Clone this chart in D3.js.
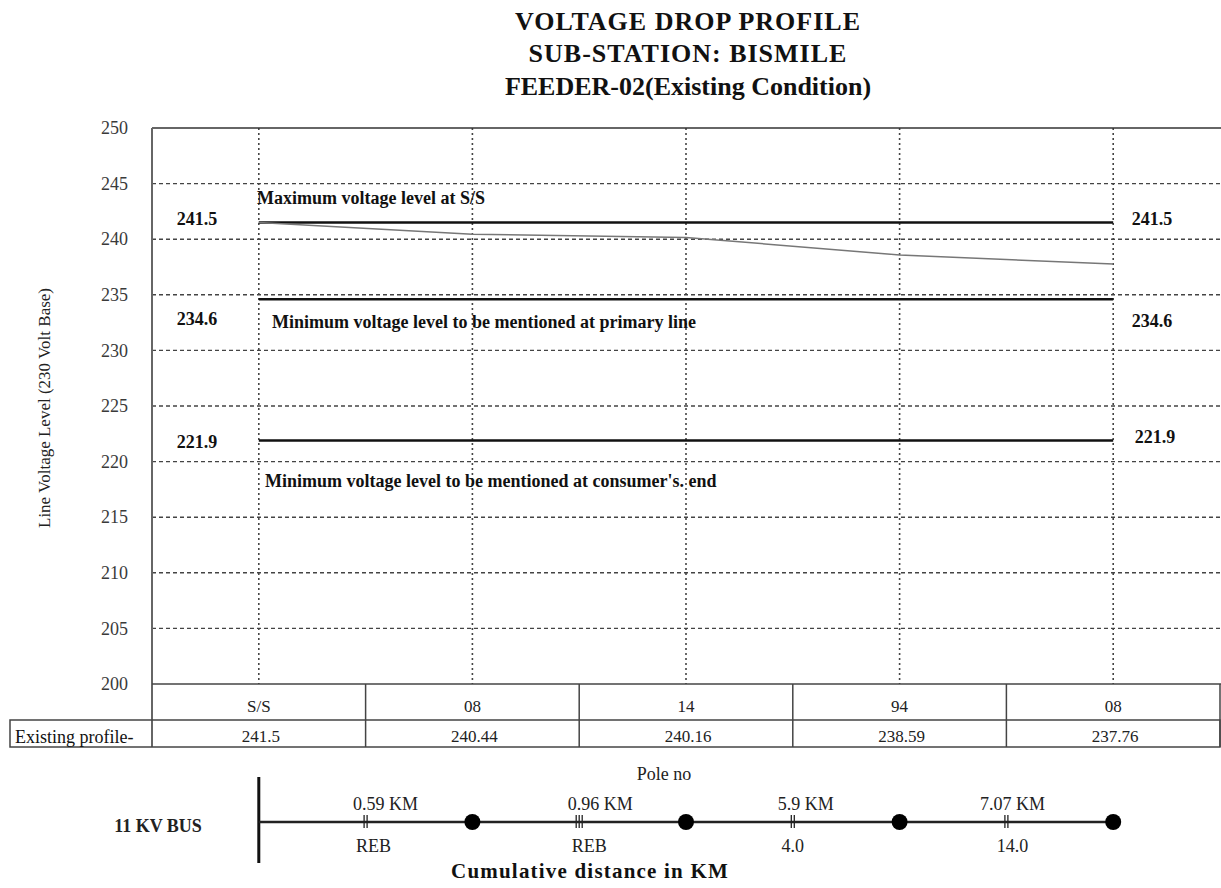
<!DOCTYPE html>
<html>
<head>
<meta charset="utf-8">
<script src="https://cdn.jsdelivr.net/npm/d3@7"></script>
<style>
  body { margin:0; background:#fff; }
  text { font-family:"Liberation Serif", "Times New Roman", serif; }
</style>
</head>
<body>
<div id="chart"></div>
<script>
// data
var poles = ["S/S", "08", "14", "94", "08"]
var existing = [241.5, 240.44, 240.16, 238.59, 237.76]
var refLevels = [241.5, 234.6, 221.9]
var refNotes = ["Maximum voltage level at S/S",
                "Minimum voltage level to be mentioned at primary line",
                "Minimum voltage level to be mentioned at consumer's. end"]
var yTicks = [200, 205, 210, 215, 220, 225, 230, 235, 240, 245, 250]
var spanKm = ["0.59 KM", "0.96 KM", "5.9 KM", "7.07 KM"]
var spanTags = ["REB", "REB", "4.0", "14.0"]
var spanBars = [2, 3, 2, 2]

var mainCode = function(){
    var W = 1221, H = 888
    var plot = {l:152, r:1220, t:128, b:684}

    var svg = d3.select("#chart")
        .append("svg")
        .attr("width", W)
        .attr("height", H)

    var idx = poles.map(function(d, i){ return i })
    var x = d3.scaleBand().domain(idx).range([plot.l, plot.r])
    var y = d3.scaleLinear().domain([200, 250]).range([plot.b, plot.t])
    var cx = function(i){ return x(i) + x.bandwidth()/2 }

    //title
    var titles = ["VOLTAGE DROP PROFILE", "SUB-STATION: BISMILE", "FEEDER-02(Existing Condition)"]
    var titleY = [30, 62, 95]
    var titleLs = [1, 1, 0]
    svg.selectAll(".title")
        .data(titles)
        .enter()
        .append("text")
        .attr("class", "title")
        .attr("x", 688)
        .attr("y", function(d, i){ return titleY[i] })
        .attr("text-anchor", "middle")
        .attr("font-size", 26)
        .attr("font-weight", "bold")
        .attr("letter-spacing", function(d, i){ return titleLs[i] })
        .attr("fill", "#111")
        .text(function(d){ return d })

    //horizontal grid
    svg.selectAll(".hgrid")
        .data(yTicks.slice(1, -1))
        .enter()
        .append("line")
        .attr("x1", plot.l)
        .attr("x2", W)
        .attr("y1", function(d){ return y(d) })
        .attr("y2", function(d){ return y(d) })
        .attr("stroke", "#444")
        .attr("stroke-width", 1.4)
        .attr("stroke-dasharray", "4,3")

    //vertical grid
    svg.selectAll(".vgrid")
        .data(idx)
        .enter()
        .append("line")
        .attr("x1", function(d){ return cx(d) })
        .attr("x2", function(d){ return cx(d) })
        .attr("y1", plot.t)
        .attr("y2", plot.b)
        .attr("stroke", "#444")
        .attr("stroke-width", 1.6)
        .attr("stroke-dasharray", "2,3")

    //frame top + left
    svg.append("line")
        .attr("x1", plot.l).attr("x2", W)
        .attr("y1", plot.t).attr("y2", plot.t)
        .attr("stroke", "#333").attr("stroke-width", 1.5)
    svg.append("line")
        .attr("x1", plot.l).attr("x2", plot.l)
        .attr("y1", plot.t).attr("y2", 747)
        .attr("stroke", "#666").attr("stroke-width", 2)

    //y axis
    var yAxis = d3.axisLeft(y).tickValues(yTicks).tickSize(0).tickPadding(24)
    var ya = svg.append("g")
        .attr("transform", "translate(" + plot.l + ",0)")
        .call(yAxis)
    ya.select(".domain").remove()
    ya.selectAll("text")
        .attr("font-family", "Liberation Serif")
        .attr("font-size", 18)
        .attr("fill", "#3a3a3a")

    svg.append("text")
        .attr("transform", "translate(50,408) rotate(-90)")
        .attr("text-anchor", "middle")
        .attr("font-size", 17)
        .attr("fill", "#222")
        .text("Line Voltage Level (230 Volt Base)")

    //reference levels
    svg.selectAll(".ref")
        .data(refLevels)
        .enter()
        .append("line")
        .attr("x1", cx(0))
        .attr("x2", cx(poles.length - 1))
        .attr("y1", function(d){ return y(d) })
        .attr("y2", function(d){ return y(d) })
        .attr("stroke", "#111")
        .attr("stroke-width", 2.5)

    var leftDy = [2.5, 26, 8]
    var rightDy = [2.5, 28, 2.5]
    var rightX = [1152, 1152, 1155]
    var fmt = d3.format(".1f")
    refLevels.forEach(function(d, i){
        svg.append("text")
            .attr("x", 197)
            .attr("y", y(d) + leftDy[i])
            .attr("text-anchor", "middle")
            .attr("font-size", 18)
            .attr("font-weight", "bold")
            .attr("fill", "#111")
            .text(fmt(d))
        svg.append("text")
            .attr("x", rightX[i])
            .attr("y", y(d) + rightDy[i])
            .attr("text-anchor", "middle")
            .attr("font-size", 18)
            .attr("font-weight", "bold")
            .attr("fill", "#111")
            .text(fmt(d))
    })

    //notes by the levels
    var noteX = [257, 272, 265]
    var noteDy = [-18.5, 29, 46.5]
    refNotes.forEach(function(d, i){
        svg.append("text")
            .attr("x", noteX[i])
            .attr("y", y(refLevels[i]) + noteDy[i])
            .attr("font-size", 18)
            .attr("font-weight", "bold")
            .attr("fill", "#111")
            .text(d)
    })

    //existing profile line
    var line = d3.line()
        .x(function(d, i){ return cx(i) })
        .y(function(d){ return y(d) })
    svg.append("path")
        .datum(existing)
        .attr("d", line)
        .attr("fill", "none")
        .attr("stroke", "#777")
        .attr("stroke-width", 1.5)

    //table
    var rowA = {t:684, b:720}, rowB = {t:720, b:747}
    svg.append("line")
        .attr("x1", plot.l).attr("x2", W)
        .attr("y1", rowA.t).attr("y2", rowA.t)
        .attr("stroke", "#444").attr("stroke-width", 1.5)
    svg.append("rect")
        .attr("x", 10).attr("y", rowB.t)
        .attr("width", W - 11).attr("height", rowB.b - rowB.t)
        .attr("fill", "none").attr("stroke", "#444").attr("stroke-width", 1.5)
    svg.append("line")
        .attr("x1", W - 1).attr("x2", W - 1)
        .attr("y1", rowA.t).attr("y2", rowB.b)
        .attr("stroke", "#444").attr("stroke-width", 1.5)
    svg.selectAll(".cellsep")
        .data(idx.slice(1))
        .enter()
        .append("line")
        .attr("x1", function(d){ return x(d) })
        .attr("x2", function(d){ return x(d) })
        .attr("y1", rowA.t)
        .attr("y2", rowB.b)
        .attr("stroke", "#444")
        .attr("stroke-width", 1.5)

    svg.selectAll(".pole")
        .data(poles)
        .enter()
        .append("text")
        .attr("x", function(d, i){ return cx(i) })
        .attr("y", 712)
        .attr("text-anchor", "middle")
        .attr("font-family", "Liberation Sans")
        .attr("font-size", 17)
        .attr("fill", "#222")
        .text(function(d){ return d })
    svg.selectAll(".val")
        .data(existing)
        .enter()
        .append("text")
        .attr("x", function(d, i){ return cx(i) + 2 })
        .attr("y", 742)
        .attr("text-anchor", "middle")
        .attr("font-family", "Liberation Sans")
        .attr("font-size", 17)
        .attr("fill", "#222")
        .text(function(d){ return d })
    svg.append("text")
        .attr("x", 15)
        .attr("y", 743)
        .attr("font-size", 18)
        .attr("fill", "#111")
        .text("Existing profile-")

    //single line diagram
    var busY = 822
    svg.append("text")
        .attr("x", 664).attr("y", 780)
        .attr("text-anchor", "middle")
        .attr("font-size", 18)
        .attr("fill", "#222")
        .text("Pole no")
    svg.append("text")
        .attr("x", 158).attr("y", 832)
        .attr("text-anchor", "middle")
        .attr("font-size", 18)
        .attr("font-weight", "bold")
        .attr("fill", "#222")
        .text("11 KV BUS")
    svg.append("line")
        .attr("x1", cx(0)).attr("x2", cx(0))
        .attr("y1", 777).attr("y2", 863)
        .attr("stroke", "#111").attr("stroke-width", 3)
    svg.append("line")
        .attr("x1", cx(0)).attr("x2", cx(poles.length - 1))
        .attr("y1", busY).attr("y2", busY)
        .attr("stroke", "#222").attr("stroke-width", 2.5)
    svg.selectAll(".node")
        .data(idx.slice(1))
        .enter()
        .append("circle")
        .attr("cx", function(d){ return cx(d) })
        .attr("cy", busY)
        .attr("r", 8)
        .attr("fill", "#000")

    var kmDx = [20, 21, 13, 6]
    var tagDx = [8, 10, 0, 6]
    spanKm.forEach(function(d, i){
        var mx = x(i + 1)
        for (var k = 0; k < spanBars[i]; k++){
            var bx = mx - (spanBars[i] - 1)*1.5 + k*3
            svg.append("line")
                .attr("x1", bx).attr("x2", bx)
                .attr("y1", busY - 7).attr("y2", busY + 6)
                .attr("stroke", "#222").attr("stroke-width", 1.3)
        }
        svg.append("text")
            .attr("x", mx + kmDx[i])
            .attr("y", 810)
            .attr("text-anchor", "middle")
            .attr("font-size", 18)
            .attr("fill", "#222")
            .text(d)
        svg.append("text")
            .attr("x", mx + tagDx[i])
            .attr("y", 852)
            .attr("text-anchor", "middle")
            .attr("font-size", 18)
            .attr("fill", "#222")
            .text(spanTags[i])
    })

    svg.append("text")
        .attr("x", 590).attr("y", 878)
        .attr("text-anchor", "middle")
        .attr("font-size", 21)
        .attr("font-weight", "bold")
        .attr("letter-spacing", 1.2)
        .attr("fill", "#111")
        .text("Cumulative distance in KM")
}

mainCode()
</script>
</body>
</html>
